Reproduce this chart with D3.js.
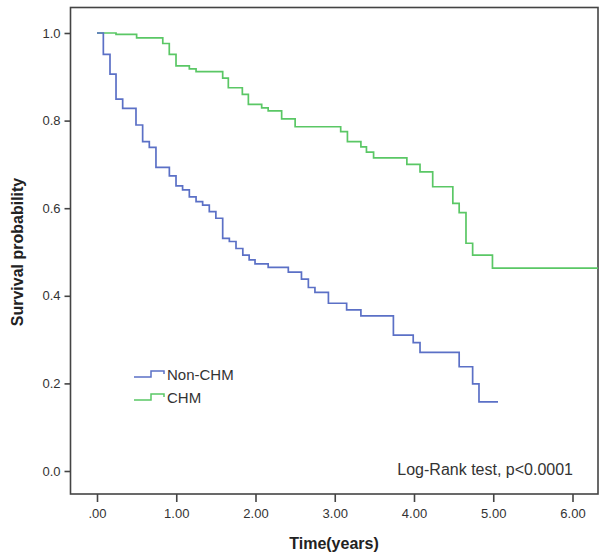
<!DOCTYPE html>
<html>
<head>
<meta charset="utf-8">
<script src="https://cdn.jsdelivr.net/npm/d3@7"></script>
<style>
  body { margin: 0; background: #fff; }
  svg { display: block; }
</style>
</head>
<body>
<div id="chart"></div>
<script>
// ---- Data ----
const xTicks = [0, 1, 2, 3, 4, 5, 6];
const xTickLabels = [".00", "1.00", "2.00", "3.00", "4.00", "5.00", "6.00"];
const yTicks = [0, 0.2, 0.4, 0.6, 0.8, 1.0];
const yTickLabels = ["0.0", "0.2", "0.4", "0.6", "0.8", "1.0"];

const seriesNames = ["Non-CHM", "CHM"];

// Non-CHM: event times (years) and survival after each step
const nonChmTime = [0, 0.08, 0.164, 0.24, 0.324, 0.492, 0.576, 0.66, 0.744, 0.913, 0.997, 1.08, 1.165, 1.25, 1.333, 1.417, 1.50, 1.586, 1.67, 1.754, 1.84, 1.92, 1.994, 2.16, 2.414, 2.58, 2.667, 2.75, 2.92, 3.15, 3.33, 3.74, 3.99, 4.076, 4.57, 4.74, 4.82, 5.06];
const nonChmSurv = [1.0, 0.951, 0.906, 0.849, 0.828, 0.790, 0.752, 0.739, 0.693, 0.674, 0.651, 0.642, 0.626, 0.615, 0.607, 0.592, 0.577, 0.531, 0.524, 0.508, 0.493, 0.482, 0.473, 0.465, 0.454, 0.438, 0.419, 0.408, 0.383, 0.368, 0.354, 0.310, 0.293, 0.271, 0.238, 0.199, 0.158, 0.158];

// CHM
const chmTime = [0, 0.24, 0.50, 0.83, 0.912, 0.997, 1.165, 1.25, 1.586, 1.657, 1.834, 1.91, 2.078, 2.16, 2.33, 2.50, 3.075, 3.16, 3.33, 3.40, 3.49, 3.91, 4.076, 4.236, 4.49, 4.57, 4.656, 4.74, 4.99, 6.32];
const chmSurv = [1.0, 0.997, 0.989, 0.976, 0.951, 0.925, 0.918, 0.912, 0.897, 0.875, 0.860, 0.837, 0.829, 0.822, 0.804, 0.786, 0.775, 0.752, 0.740, 0.728, 0.715, 0.700, 0.683, 0.649, 0.611, 0.590, 0.520, 0.493, 0.463, 0.463];

const seriesColors = ["#5b70c6", "#5ac765"];

// ---- Layout ----
const W = 604, H = 559;
const frame = { left: 70.5, right: 598, top: 7.5, bottom: 494 };

const svg = d3.select("#chart").append("svg")
  .attr("width", W).attr("height", H)
  .style("font-family", "'Liberation Sans', Arial, sans-serif");

const x = d3.scaleLinear().domain([0, 6]).range([97, 572.5]);
const y = d3.scaleLinear().domain([0, 1]).range([471, 33]);

// Frame
svg.append("rect")
  .attr("x", frame.left).attr("y", frame.top)
  .attr("width", frame.right - frame.left).attr("height", frame.bottom - frame.top)
  .attr("fill", "none").attr("stroke", "#444").attr("stroke-width", 1.6);

// Y axis
const yAxis = d3.axisLeft(y).tickValues(yTicks)
  .tickFormat((d, i) => yTickLabels[i]).tickSize(6).tickPadding(4);
const gy = svg.append("g").attr("transform", `translate(${frame.left},0)`).call(yAxis);
gy.select(".domain").remove();
gy.selectAll(".tick line").attr("stroke", "#444").attr("stroke-width", 1.6);
gy.selectAll(".tick text").attr("fill", "#333").style("font-size", "13px");

// X axis
const xAxis = d3.axisBottom(x).tickValues(xTicks)
  .tickFormat((d, i) => xTickLabels[i]).tickSize(8).tickPadding(7);
const gx = svg.append("g").attr("transform", `translate(0,${frame.bottom})`).call(xAxis);
gx.select(".domain").remove();
gx.selectAll(".tick line").attr("stroke", "#444").attr("stroke-width", 1.6);
gx.selectAll(".tick text").attr("fill", "#333").style("font-size", "13px");

// Axis titles
svg.append("text")
  .attr("x", 334).attr("y", 549)
  .attr("text-anchor", "middle")
  .style("font-size", "16px").style("font-weight", "bold").attr("fill", "#222")
  .text("Time(years)");

svg.append("text")
  .attr("transform", "translate(23,252) rotate(-90)")
  .attr("text-anchor", "middle")
  .style("font-size", "16px").style("font-weight", "bold").attr("fill", "#222")
  .text("Survival probability");

// Curves
const line = d3.line().x(d => x(d[0])).y(d => y(d[1])).curve(d3.curveStepAfter);
const series = [
  d3.zip(nonChmTime, nonChmSurv),
  d3.zip(chmTime, chmSurv)
];
// draw CHM first, then Non-CHM on top
[1, 0].forEach(i => {
  svg.append("path")
    .attr("d", line(series[i]))
    .attr("fill", "none")
    .attr("stroke", seriesColors[i])
    .attr("stroke-width", 1.7);
});

// Legend
const legendY = [375, 398];
seriesNames.forEach((name, i) => {
  const ly = legendY[i];
  const sym = [[134, ly + 2], [151, ly + 2], [151, ly - 4], [164, ly - 4], [164, ly - 1]];
  svg.append("path")
    .attr("d", d3.line()(sym))
    .attr("fill", "none")
    .attr("stroke", seriesColors[i])
    .attr("stroke-width", 1.5);
  svg.append("text")
    .attr("x", 167).attr("y", ly + 5)
    .style("font-size", "15px").attr("fill", "#333")
    .text(name);
});

// Log-rank annotation
svg.append("text")
  .attr("x", 573).attr("y", 475)
  .attr("text-anchor", "end")
  .style("font-size", "16px").attr("fill", "#333")
  .text("Log-Rank test, p<0.0001");
</script>
</body>
</html>
